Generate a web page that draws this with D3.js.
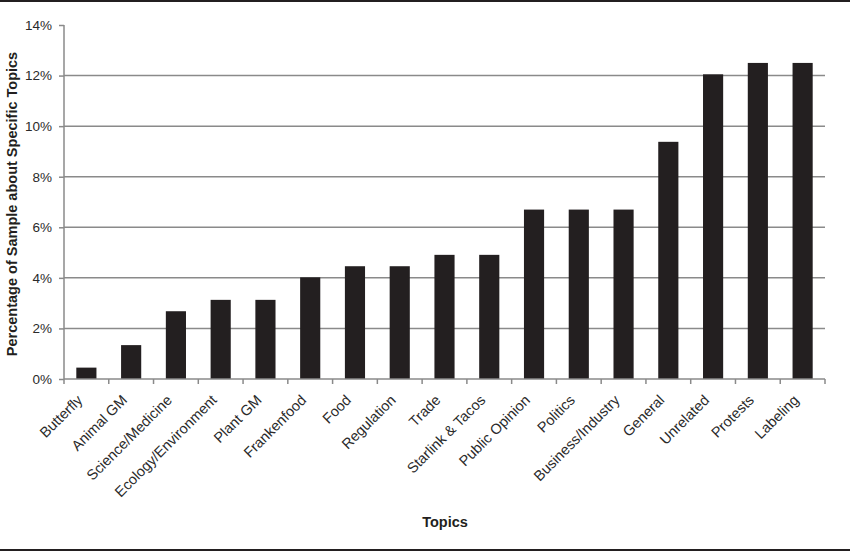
<!DOCTYPE html>
<html>
<head>
<meta charset="utf-8">
<script src="https://cdn.jsdelivr.net/npm/d3@7"></script>
<style>
  body { margin: 0; background: #fff; }
  svg { display: block; font-family: "Liberation Sans", Arial, sans-serif; }
</style>
</head>
<body>
<div id="chart"></div>
<script>
// 主題類別
const topics = ["Butterfly", "Animal GM", "Science/Medicine", "Ecology/Environment", "Plant GM",
  "Frankenfood", "Food", "Regulation", "Trade", "Starlink & Tacos", "Public Opinion", "Politics",
  "Business/Industry", "General", "Unrelated", "Protests", "Labeling"];
// 各主題佔樣本百分比
const percentages = [0.45, 1.34, 2.68, 3.13, 3.13, 4.02, 4.46, 4.46, 4.91, 4.91, 6.70, 6.70,
  6.70, 9.38, 12.05, 12.50, 12.50];
// Y 軸刻度
const yTicks = [0, 2, 4, 6, 8, 10, 12, 14];

const W = 850, H = 552;
const margin = {top: 25, right: 25, bottom: 173, left: 64};
const width = W - margin.left - margin.right;
const height = H - margin.top - margin.bottom;

const svg = d3.select("#chart").append("svg")
    .attr("width", W)
    .attr("height", H);

// 上下框線
svg.append("rect").attr("x", 0).attr("y", 0).attr("width", W).attr("height", 2).attr("fill", "#231f20");
svg.append("rect").attr("x", 0).attr("y", H - 3).attr("width", W).attr("height", 2).attr("fill", "#231f20");

const g = svg.append("g")
    .attr("transform", `translate(${margin.left},${margin.top})`);

const x = d3.scaleBand()
    .domain(topics)
    .range([0, width])
    .paddingInner(0.55)
    .paddingOuter(0.275);

const xb = d3.scaleLinear().domain([0, topics.length]).range([0, width]);

const y = d3.scaleLinear()
    .domain([0, 14])
    .range([height, 0]);

// 格線
g.append("g")
    .selectAll("line")
    .data(yTicks.filter(d => d > 0 && d < 14))
    .join("line")
    .attr("x1", 0)
    .attr("x2", width)
    .attr("y1", d => y(d))
    .attr("y2", d => y(d))
    .attr("stroke", "#8a8a8a")
    .attr("stroke-width", 1.5);

// Y 軸
const yAxis = g.append("g")
    .call(d3.axisLeft(y).tickValues(yTicks).tickSize(5).tickPadding(7).tickFormat(d => d + "%"));
yAxis.select(".domain").attr("stroke", "#8a8a8a").attr("stroke-width", 1.5).attr("d", `M0,${height}V0`);
yAxis.selectAll(".tick line").attr("stroke", "#8a8a8a").attr("stroke-width", 1.5);
yAxis.selectAll("text").attr("fill", "#2a2a2a").style("font-size", "13.5px");

// 長條
g.append("g")
    .selectAll("rect")
    .data(percentages)
    .join("rect")
    .attr("x", (d, i) => x(topics[i]))
    .attr("y", d => y(d))
    .attr("width", x.bandwidth())
    .attr("height", d => height - y(d))
    .attr("fill", "#231f20");

// X 軸
const xAxisG = g.append("g").attr("transform", `translate(0,${height})`);
xAxisG.append("line")
    .attr("x1", 0).attr("x2", width)
    .attr("stroke", "#8a8a8a").attr("stroke-width", 1.5);
xAxisG.selectAll(".xtick")
    .data(d3.range(topics.length + 1))
    .join("line")
    .attr("class", "xtick")
    .attr("x1", d => xb(d)).attr("x2", d => xb(d))
    .attr("y1", 0).attr("y2", 5)
    .attr("stroke", "#8a8a8a").attr("stroke-width", 1.5);
xAxisG.selectAll(".xlabel")
    .data(topics)
    .join("text")
    .attr("class", "xlabel")
    .attr("transform", d => `translate(${x(d) + x.bandwidth() / 2 - 3},${22}) rotate(-45)`)
    .attr("text-anchor", "end")
    .attr("fill", "#2a2a2a")
    .style("font-size", "14.5px")
    .text(d => d);

// 軸標題
svg.append("text")
    .attr("transform", `translate(17,${margin.top + height / 2 + 2}) rotate(-90)`)
    .attr("text-anchor", "middle")
    .attr("fill", "#231f20")
    .style("font-size", "14.5px")
    .style("font-weight", "bold")
    .text("Percentage of Sample about Specific Topics");

svg.append("text")
    .attr("x", 445)
    .attr("y", 527)
    .attr("text-anchor", "middle")
    .attr("fill", "#231f20")
    .style("font-size", "14.5px")
    .style("font-weight", "bold")
    .text("Topics");
</script>
</body>
</html>
